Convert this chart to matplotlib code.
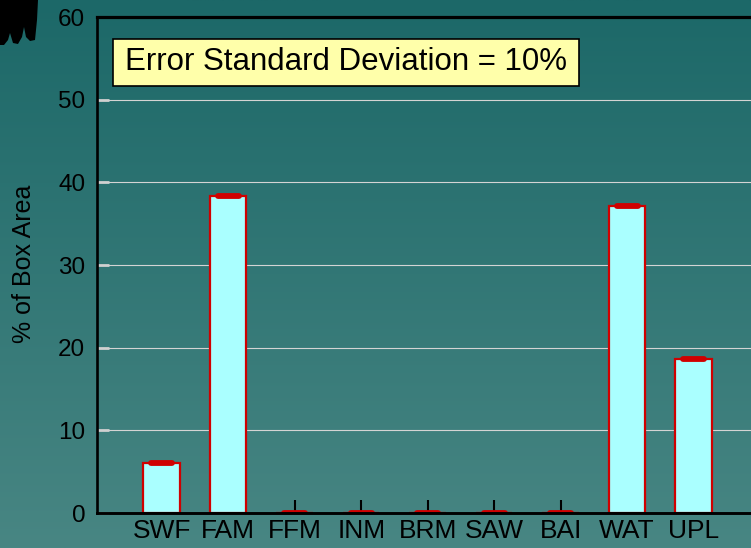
import numpy as np
import matplotlib
matplotlib.use("Agg")
import matplotlib.pyplot as plt
from matplotlib.patches import Rectangle, Polygon

plt.rcParams['font.family'] = ['Liberation Sans', 'DejaVu Sans']

categories = ["SWF", "FAM", "FFM", "INM", "BRM", "SAW", "BAI", "WAT", "UPL"]
values = [6.0, 38.3, 0.0, 0.0, 0.0, 0.0, 0.0, 37.1, 18.6]
yticks = [0, 10, 20, 30, 40, 50, 60]
title_text = "Error Standard Deviation = 10%"
ylabel_text = "% of Box Area"

W, H = 751, 548
fig = plt.figure(figsize=(W / 100, H / 100), dpi=100)

# background gradient
bg = fig.add_axes([0, 0, 1, 1], zorder=-10)
top = np.array([28, 104, 104]) / 255
bot = np.array([72, 134, 131]) / 255
t = np.linspace(0, 1, 256)[:, None, None]
grad = top * (1 - t) + bot * t
grad = np.repeat(grad, 2, axis=1)
bg.imshow(grad, aspect='auto', extent=[0, 1, 0, 1], origin='upper')
bg.set_xlim(0, 1)
bg.set_ylim(0, 1)
bg.axis('off')

# decorative black shape in top-left corner (pixel coords)
pts = [(0, 0), (38, 0), (37, 20), (35, 40), (30, 41), (26, 37), (24, 27), (22, 37),
       (18, 44), (13, 43), (10, 33), (8, 40), (4, 45), (0, 45)]
pts = [(x / W, 1 - y / H) for x, y in pts]
bg.add_patch(Polygon(pts, closed=True, facecolor='black', edgecolor='none',
                     transform=bg.transAxes))

left_px, top_px, bottom_px = 97, 17, 513
ax = fig.add_axes([left_px / W, 1 - bottom_px / H, (W - left_px) / W,
                   (bottom_px - top_px) / H])
ax.patch.set_alpha(0)

x = np.arange(len(categories))
ax.set_xlim(-0.973, 8.862)
ax.set_ylim(0, 60)

for yv in yticks[1:-1]:
    ax.axhline(yv, color='#d4d4d4', lw=0.8, zorder=1)

ax.bar(x, values, width=0.55, color='#aaffff', edgecolor='#d00000',
       linewidth=1.6, zorder=2)
for xi, v in zip(x, values):
    ax.plot([xi - 0.16, xi + 0.16], [v, v], color='#d00000', lw=4.2,
            solid_capstyle='round', zorder=3)

ax.set_xticks(x)
ax.set_xticklabels(categories, fontsize=19)
ax.set_yticks(yticks)
ax.set_yticklabels([str(v) for v in yticks], fontsize=17.5)
ax.tick_params(axis='x', direction='in', length=9.4, width=1.5, color='black',
               pad=4, zorder=4)
ax.tick_params(axis='y', direction='in', length=8.6, width=2, color='#d0d0d0',
               pad=8.5)
ax.spines['left'].set_linewidth(1.9)
ax.spines['top'].set_linewidth(2.3)
ax.spines['bottom'].set_linewidth(2.1)
ax.spines['right'].set_visible(False)
for s in ax.spines.values():
    s.set_zorder(5)

fig.text(24 / W, 1 - 264 / H, ylabel_text, rotation=90, fontsize=18,
         ha='center', va='center')

# title box
bx0, by0, bx1, by1 = 113, 39, 579, 86
fig.patches.append(Rectangle((bx0 / W, 1 - by1 / H), (bx1 - bx0) / W, (by1 - by0) / H,
                             transform=fig.transFigure, facecolor='#ffffaa',
                             edgecolor='black', lw=1.2, zorder=6))
fig.text((bx0 + bx1) / 2 / W, 1 - (by0 + by1) / 2 / H, title_text, fontsize=22.5,
         ha='center', va='center', zorder=7)

fig.savefig('out.png', dpi=100)
